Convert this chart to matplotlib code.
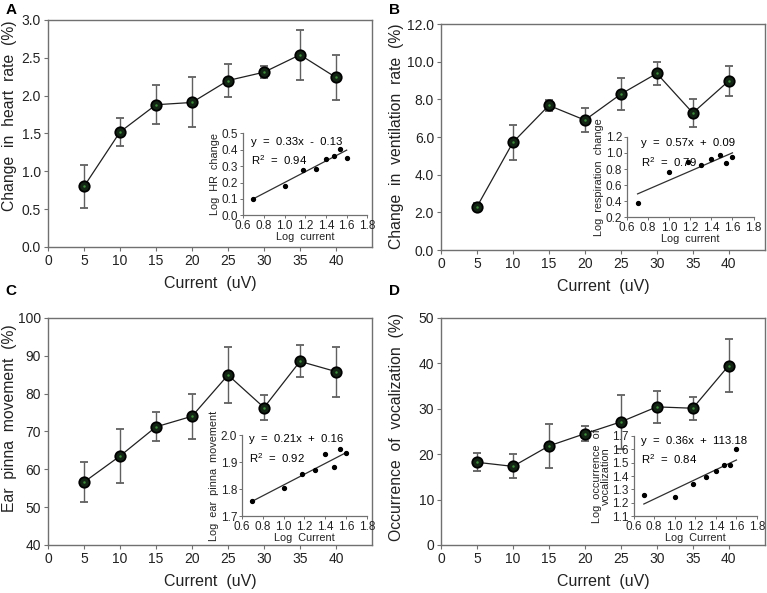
import matplotlib
matplotlib.use("Agg")
import matplotlib.pyplot as plt
import numpy as np

plt.rcParams['font.family'] = ['Liberation Sans', 'DejaVu Sans']
plt.rcParams['mathtext.fontset'] = 'custom'
plt.rcParams['mathtext.rm'] = 'Liberation Sans'
plt.rcParams['mathtext.it'] = 'Liberation Sans'

# ---- data ----
current = [5, 10, 15, 20, 25, 30, 35, 40]

hr_mean = [0.80, 1.52, 1.88, 1.91, 2.20, 2.31, 2.54, 2.24]
hr_err = [0.28, 0.19, 0.26, 0.33, 0.22, 0.08, 0.33, 0.30]

vent_mean = [2.30, 5.72, 7.68, 6.90, 8.28, 9.38, 7.28, 8.98]
vent_err = [0.20, 0.92, 0.28, 0.65, 0.83, 0.60, 0.73, 0.78]

ear_mean = [56.6, 63.5, 71.2, 74.0, 84.9, 76.3, 88.5, 85.8]
ear_err = [5.3, 7.2, 3.8, 6.0, 7.4, 3.4, 4.2, 6.6]

voc_mean = [18.2, 17.3, 21.8, 24.5, 27.1, 30.4, 30.1, 39.5]
voc_err = [2.0, 2.65, 4.8, 1.65, 6.0, 3.5, 2.5, 5.75]

log_current = [0.70, 1.00, 1.18, 1.30, 1.40, 1.48, 1.54, 1.60]
log_hr = [0.10, 0.18, 0.275, 0.28, 0.345, 0.365, 0.405, 0.35]
log_resp = [0.37, 0.76, 0.89, 0.85, 0.92, 0.97, 0.87, 0.95]
log_ear = [1.755, 1.805, 1.855, 1.87, 1.93, 1.883, 1.948, 1.935]
log_voc = [1.26, 1.24, 1.34, 1.39, 1.435, 1.485, 1.48, 1.60]

fit_x = [0.70, 1.60]
fit_hr = [0.101, 0.398]
fit_resp = [0.489, 1.002]
fit_ear = [1.755, 1.935]
fit_voc = [1.19, 1.52]

fig = plt.figure(figsize=(7.67, 5.93), dpi=100)

FRAME = '#707070'

def main_panel(rect, mean, err, ylim, yticks, yfmt, ylabel, label_xy, letter, letter_xy):
    ax = fig.add_axes(rect)
    ax.errorbar(current, mean, yerr=err, color='#202020', lw=0.9,
                ecolor='#606060', elinewidth=1.0, capsize=3.2, capthick=1.0,
                marker='o', ms=7.5, mfc='#142414', mec='black', mew=1.3, zorder=3)
    ax.plot(current, mean, 'o', ms=1.8, color='#3c8c3c', mew=0, zorder=4)
    ax.set_xlim(0, 45)
    ax.set_ylim(*ylim)
    ax.set_xticks(range(0, 45, 5))
    ax.set_yticks(yticks)
    ax.set_yticklabels([yfmt.format(v) for v in yticks])
    for s in ax.spines.values():
        s.set_color(FRAME)
        s.set_linewidth(1.0)
    ax.tick_params(direction='out', length=3, width=0.8, color=FRAME,
                   labelsize=10, labelcolor='#222222', pad=2)
    ax.set_xlabel('Current  (uV)', fontsize=11.5, color='#222222', labelpad=6)
    ax.set_ylabel(ylabel, fontsize=11.3, color='#222222')
    ax.yaxis.set_label_coords(*label_xy)
    fig.text(letter_xy[0], letter_xy[1], letter, fontsize=11,
             fontweight='bold', va='bottom', ha='left')
    return ax

def inset_panel(rect, ly, fy, ylim, yticks, ylabel, xlabel, eq, r2, tx, ty1, ty2):
    ax = fig.add_axes(rect)
    ax.plot(log_current, ly, 'o', ms=2.8, color='black', zorder=3)
    ax.plot(fit_x, fy, '-', color='#303030', lw=0.9)
    ax.set_xlim(0.6, 1.8)
    ax.set_ylim(*ylim)
    ax.set_xticks(np.arange(0.6, 1.81, 0.2))
    ax.set_xticklabels(['{:.1f}'.format(v) for v in np.arange(0.6, 1.81, 0.2)])
    ax.set_yticks(yticks)
    ax.set_yticklabels(['{:.1f}'.format(v) for v in yticks])
    ax.patch.set_alpha(0)
    ax.spines['top'].set_visible(False)
    ax.spines['right'].set_visible(False)
    for s in ('left', 'bottom'):
        ax.spines[s].set_color(FRAME)
        ax.spines[s].set_linewidth(0.9)
    ax.tick_params(direction='out', length=2.5, width=0.7, color=FRAME,
                   labelsize=8.5, labelcolor='#222222', pad=1)
    ax.set_xlabel(xlabel, fontsize=7.8, color='#222222', labelpad=0)
    ax.set_ylabel(ylabel, fontsize=7.8, color='#222222', labelpad=1, linespacing=0.9)
    ax.text(tx, ty1, eq, transform=ax.transAxes, fontsize=8.2, va='center', ha='left')
    ax.text(tx, ty2, r2, transform=ax.transAxes, fontsize=8.2, va='center', ha='left')
    return ax

main_panel([0.0626, 0.5835, 0.4224, 0.3828], hr_mean, hr_err, (0, 3.0),
           np.arange(0, 3.01, 0.5), '{:.1f}', 'Change  in  heart  rate  (%)',
           (-0.096, 0.577), 'A', (0.007, 0.971))
main_panel([0.575, 0.5784, 0.422, 0.381], vent_mean, vent_err, (0, 12.0),
           np.arange(0, 12.01, 2.0), '{:.1f}', 'Change  in  ventilation  rate  (%)',
           (-0.114, 0.505), 'B', (0.507, 0.971))
main_panel([0.0626, 0.081, 0.4224, 0.383], ear_mean, ear_err, (40, 100),
           np.arange(40, 101, 10), '{:.0f}', 'Ear  pinna  movement  (%)',
           (-0.096, 0.56), 'C', (0.007, 0.497))
main_panel([0.575, 0.081, 0.422, 0.383], voc_mean, voc_err, (0, 50),
           np.arange(0, 51, 10), '{:.0f}', 'Occurrence  of  vocalization  (%)',
           (-0.114, 0.52), 'D', (0.507, 0.497))

inset_panel([0.317, 0.637, 0.162, 0.138], log_hr, fit_hr, (0, 0.5),
            np.arange(0, 0.51, 0.1), 'Log  HR  change', 'Log  current',
            'y  =  0.33x  -  0.13', 'R$^2$  =  0.94', 0.06, 0.89, 0.67)
inset_panel([0.8175, 0.634, 0.165, 0.135], log_resp, fit_resp, (0.2, 1.2),
            np.arange(0.2, 1.21, 0.2), 'Log  respiration  change', 'Log  current',
            'y  =  0.57x  +  0.09', 'R$^2$  =  0.79', 0.11, 0.925, 0.69)
inset_panel([0.3155, 0.1298, 0.163, 0.1366], log_ear, fit_ear, (1.7, 2.0),
            np.arange(1.7, 2.01, 0.1), 'Log  ear  pinna  movement', 'Log  Current',
            'y  =  0.21x  +  0.16', 'R$^2$  =  0.92', 0.056, 0.95, 0.716)
inset_panel([0.826, 0.1298, 0.161, 0.135], log_voc, fit_voc, (1.1, 1.7),
            np.arange(1.1, 1.71, 0.1), 'Log  occurrence  of\nvocalization', 'Log  Current',
            'y  =  0.36x  +  113.18', 'R$^2$  =  0.84', 0.06, 0.94, 0.71)

fig.savefig('out.png', dpi=100)
